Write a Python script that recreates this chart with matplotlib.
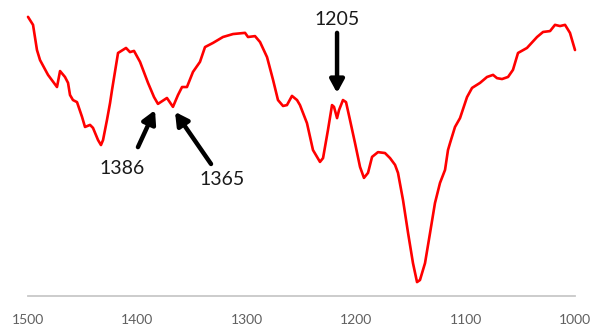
import matplotlib
matplotlib.use("Agg")
import matplotlib.pyplot as plt

# IR transmission spectrum (wavenumber in cm^-1, transmittance in a.u.)
wavenumber = [1500.0, 1495.4, 1491.8, 1489.0, 1481.7, 1473.5, 1470.7, 1466.2, 1463.4, 1461.6,
              1458.9, 1455.2, 1450.6, 1447.9, 1443.3, 1440.6, 1436.0, 1433.3, 1431.4, 1427.8,
              1425.0, 1423.2, 1417.7, 1410.4, 1406.8, 1403.1, 1397.6, 1390.3, 1384.8, 1381.2,
              1373.0, 1367.5, 1362.9, 1359.2, 1354.7, 1349.2, 1342.8, 1338.2, 1330.9, 1321.8,
              1312.6, 1301.6, 1298.9, 1292.5, 1287.9, 1281.5, 1276.0, 1271.5, 1266.9, 1263.3,
              1258.7, 1254.1, 1251.4, 1245.0, 1239.5, 1233.1, 1230.3, 1225.8, 1222.1, 1220.3,
              1217.5, 1215.7, 1212.1, 1209.3, 1205.7, 1201.1, 1196.5, 1192.9, 1189.2, 1185.5,
              1180.1, 1173.7, 1169.1, 1164.5, 1161.8, 1157.2, 1152.6, 1148.1, 1144.4, 1141.7,
              1137.1, 1132.5, 1128.0, 1123.4, 1118.8, 1116.1, 1114.2, 1109.7, 1105.1, 1098.7,
              1094.1, 1086.8, 1080.4, 1074.9, 1071.3, 1066.7, 1061.2, 1056.7, 1052.1, 1043.9,
              1034.7, 1029.2, 1022.8, 1018.3, 1013.7, 1009.1, 1004.6, 1000.0]
transmittance = [94.3, 91.6, 83.1, 79.7, 74.7, 70.6, 76.0, 74.0, 72.0, 67.9,
                 66.2, 65.5, 60.5, 57.1, 57.8, 56.8, 52.7, 51.0, 52.7, 59.5,
                 65.2, 69.6, 82.1, 83.8, 82.4, 82.8, 79.1, 72.0, 67.2, 64.9,
                 66.9, 63.9, 67.9, 70.6, 70.6, 75.7, 79.1, 84.1, 85.5, 87.5,
                 88.5, 88.9, 87.5, 87.8, 85.8, 80.7, 73.0, 66.2, 64.2, 64.5,
                 67.6, 66.2, 64.5, 58.4, 49.3, 45.3, 46.6, 56.1, 64.5, 63.9,
                 60.1, 62.8, 66.2, 65.5, 59.5, 51.7, 43.6, 39.9, 41.6, 47.0,
                 48.6, 48.3, 46.6, 44.3, 41.6, 32.4, 21.3, 11.1, 4.7, 5.4,
                 11.1, 21.3, 31.4, 38.2, 42.6, 49.3, 51.7, 57.1, 60.1, 67.2,
                 70.3, 72.0, 74.0, 74.7, 73.6, 73.3, 74.0, 76.4, 82.1, 83.8,
                 87.5, 89.2, 89.5, 91.6, 91.2, 91.6, 88.9, 83.1]

tick_values = [1500, 1400, 1300, 1200, 1100, 1000]
tick_labels = ["1500", "1400", "1300", "1200", "1100", "1000"]

band_labels = ["1386", "1365", "1205"]

plt.rcParams["font.family"] = ["Lato", "DejaVu Sans"]

fig = plt.figure(figsize=(5.92, 3.25), dpi=100)
ax = fig.add_axes([28 / 592, 1 - 296 / 325, (575 - 28) / 592, 296 / 325])

ax.plot(wavenumber, transmittance, color="#ff0000", lw=1.9, solid_joinstyle="round",
        solid_capstyle="round", clip_on=False)

ax.set_xlim(1500, 1000)
ax.set_ylim(0, 100)

for side in ("top", "right", "left"):
    ax.spines[side].set_visible(False)
ax.spines["bottom"].set_color("#c8c8c8")
ax.spines["bottom"].set_linewidth(1.3)
ax.set_yticks([])
ax.set_xticks(tick_values)
ax.set_xticklabels(tick_labels)
ax.tick_params(axis="x", length=0, pad=13, labelsize=10, labelcolor="#606060")

arrow_style = dict(arrowstyle="-|>,head_length=0.55,head_width=0.3", color="black",
                   lw=3.2, shrinkA=0, shrinkB=0, mutation_scale=14)

# arrow heads, tails and label anchors in data coordinates
ax.annotate("", xy=(1383.9, 62.8), xytext=(1399.5, 50.3), arrowprops=arrow_style)
ax.text(1414.1, 43.2, band_labels[0], ha="center", va="center", fontsize=14, color="#1a1a1a")

ax.annotate("", xy=(1365.6, 62.2), xytext=(1332.7, 44.6), arrowprops=arrow_style)
ax.text(1322.7, 39.2, band_labels[1], ha="center", va="center", fontsize=14, color="#1a1a1a")

ax.annotate("", xy=(1217.5, 68.6), xytext=(1217.5, 88.9), arrowprops=arrow_style)
ax.text(1217.5, 93.4, band_labels[2], ha="center", va="center", fontsize=14, color="#1a1a1a")

fig.savefig("out.png", dpi=100)
